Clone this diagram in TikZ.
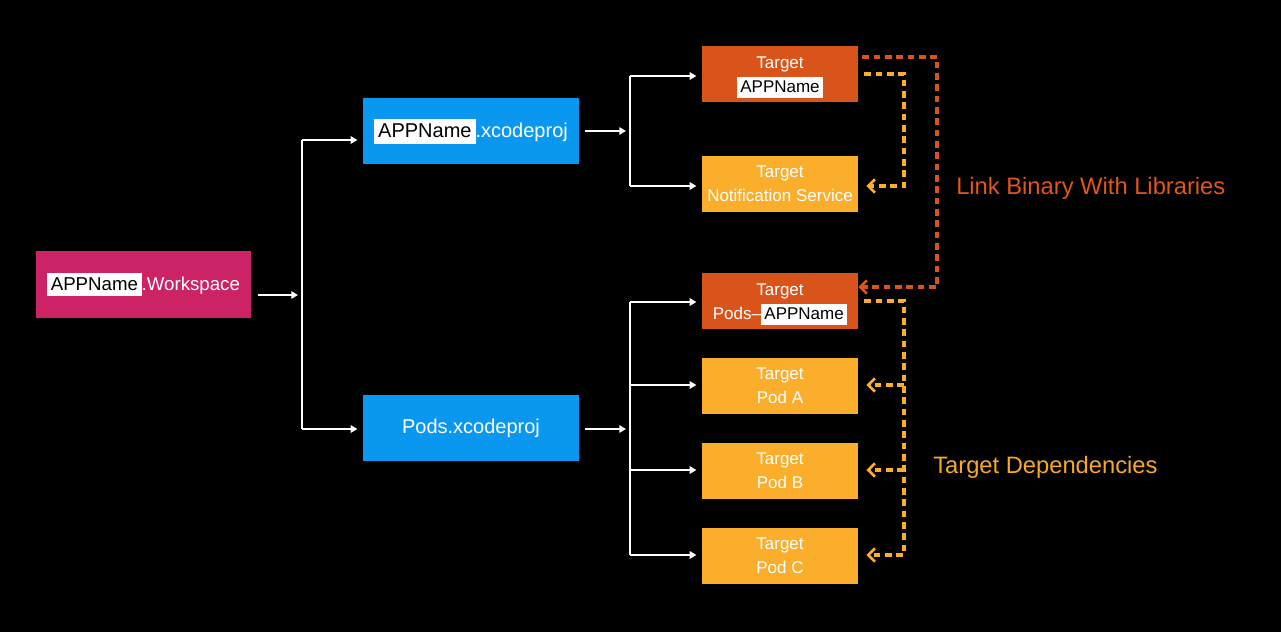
\documentclass[tikz,border=0pt]{standalone}
\usepackage{fontspec}
\setmainfont{Liberation Sans}
\usetikzlibrary{arrows.meta}
\definecolor{bgc}{HTML}{000000}
\definecolor{wsc}{HTML}{CC2366}
\definecolor{xpc}{HTML}{0A97F0}
\definecolor{tred}{HTML}{D9541A}
\definecolor{tyel}{HTML}{FBAE2B}
\definecolor{lred}{HTML}{E0561B}
\definecolor{lyel}{HTML}{F7A926}
\newcommand\hlbox[1]{{\setlength{\fboxsep}{0pt}\colorbox{white}{\color{black}\hspace{0.2em}\rule[-0.3em]{0pt}{1.25em}#1\hspace{0.2em}}}}
\tikzset{
  ws/.style={fill=wsc, text=white, minimum width=161.25pt, minimum height=50.25pt, inner sep=0pt, font=\fontsize{14pt}{17pt}\selectfont},
  xp/.style={fill=xpc, text=white, minimum width=162pt, minimum height=49.5pt, inner sep=0pt, font=\fontsize{15pt}{18pt}\selectfont},
  tgt/.style={text=white, minimum width=117pt, minimum height=42pt, inner sep=0pt, align=center, font=\fontsize{12.75pt}{18pt}\selectfont},
  tr/.style={tgt, fill=tred},
  ty/.style={tgt, fill=tyel},
  wline/.style={white, line width=1.5pt},
  warrow/.style={wline, -{Triangle[length=5pt,width=5.5pt]}},
  dashO/.style={tred, line width=2.4pt, dash pattern=on 5pt off 3.5pt, -{Straight Barb[length=5pt,width=10pt,line width=2.1pt]}},
  dashY/.style={tyel, line width=2.4pt, dash pattern=on 5pt off 3.5pt, -{Straight Barb[length=5pt,width=10pt,line width=2.1pt]}},
  lab/.style={anchor=west, inner sep=0pt, font=\fontsize{17.8pt}{21pt}\selectfont}
}
\begin{document}
\begin{tikzpicture}[x=0.75pt, y=-0.75pt]
\fill[bgc] (0,0) rectangle (1281,632);
\useasboundingbox (0,0) rectangle (1281,632);

\node[ws] (ws) at (143.5,284.5) {\hlbox{APPName}.Workspace};
\node[xp] (xp1) at (471,131) {\hlbox{APPName}.xcodeproj};
\node[xp] (xp2) at (471,428) {Pods.xcodeproj};

\node[tr] (t1) at (780,74) {\rule{0pt}{14pt}Target\\\hlbox{APPName}};
\node[ty] (tn) at (780,184) {Target\\Notification Service};
\node[tr] (tp) at (780,301) {\rule{0pt}{14pt}Target\\Pods--\hlbox{APPName}};
\node[ty] (ta) at (780,386) {Target\\Pod A};
\node[ty] (tb) at (780,471) {Target\\Pod B};
\node[ty] (tc) at (780,556) {Target\\Pod C};

\node[lab, text=lred] (l1) at (956,188) {Link Binary With Libraries};
\node[lab, text=lyel] (l2) at (933,467) {Target Dependencies};

% workspace bracket
\coordinate (b1) at (302,295);
\coordinate (b1t) at (302,140);
\coordinate (b1b) at (302,429);
\draw[warrow, shorten <=5pt, shorten >=3pt] (ws.east |- b1) -- (b1);
\draw[wline] (b1t) -- (b1b);
\draw[warrow, shorten >=4pt] (b1t) -- (b1t -| xp1.west);
\draw[warrow, shorten >=4pt] (b1b) -- (b1b -| xp2.west);

% xcodeproj bracket
\coordinate (b2) at (630,131);
\coordinate (b2t) at (630,76);
\coordinate (b2b) at (630,186);
\draw[warrow, shorten <=4.5pt, shorten >=3pt] (xp1.east |- b2) -- (b2);
\draw[wline] (b2t) -- (b2b);
\draw[warrow, shorten >=4pt] (b2t) -- (b2t -| t1.west);
\draw[warrow, shorten >=4pt] (b2b) -- (b2b -| tn.west);

% pods bracket
\coordinate (b3) at (630,429);
\coordinate (b3t) at (630,302);
\coordinate (b3b) at (630,555);
\draw[warrow, shorten <=4.5pt, shorten >=3pt] (xp2.east |- b3) -- (b3);
\draw[wline] (b3t) -- (b3b);
\draw[warrow, shorten >=4pt] (b3t) -- (b3t -| tp.west);
\draw[warrow, shorten >=4pt] (630,385) coordinate (b3a) -- (b3a -| ta.west);
\draw[warrow, shorten >=4pt] (630,470) coordinate (b3c) -- (b3c -| tb.west);
\draw[warrow, shorten >=4pt] (b3b) -- (b3b -| tc.west);

% link binary dashed
\coordinate (o1) at (937,57);
\coordinate (o2) at (937,287);
\draw[dashO, shorten <=3pt] (t1.east |- o1) -- (o1) -- (o2) -- (tp.east |- o2);

% dependencies dashed
\coordinate (y1) at (904,74);
\coordinate (y2) at (904,186);
\draw[dashY, shorten <=4.5pt, shorten >=6pt] (t1.east |- y1) -- (y1) -- (y2) -- (tn.east |- y2);

\coordinate (y3) at (904,301);
\coordinate (y4) at (904,555);
\draw[dashY, shorten <=4.5pt, shorten >=6pt] (tp.east |- y3) -- (y3) -- (y4) -- (tc.east |- y4);
\draw[dashY, shorten >=6pt] (904,385) coordinate (ya) -- (ta.east |- ya);
\draw[dashY, shorten >=6pt] (904,470) coordinate (yb) -- (tb.east |- yb);
\end{tikzpicture}
\end{document}
